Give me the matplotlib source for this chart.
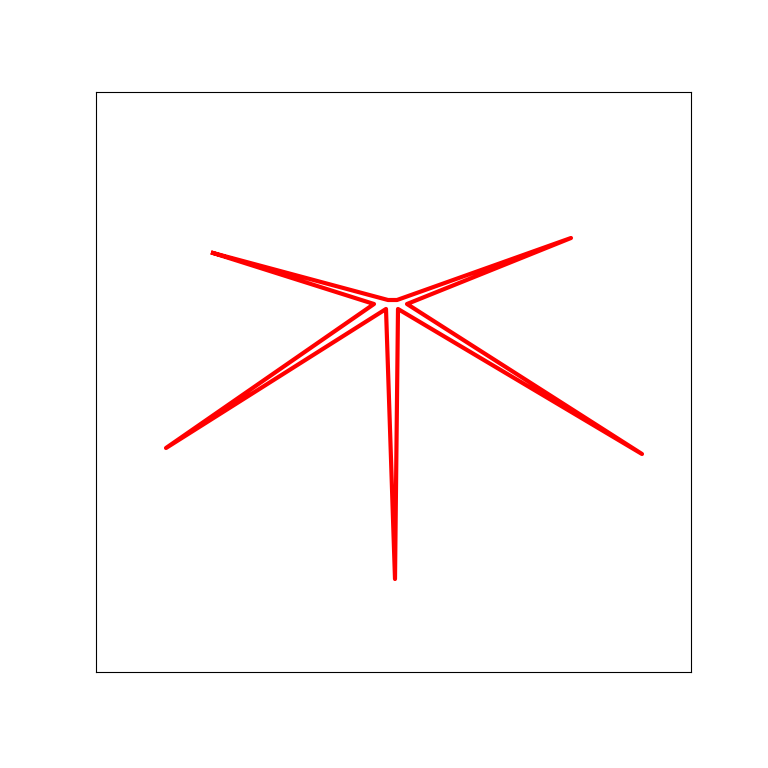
import matplotlib
matplotlib.use("Agg")
import matplotlib.pyplot as plt

# star outline vertices (closed path)
x = [117, 292, 301, 475, 311, 546, 302, 299, 290, 70, 278, 117]
y = [419, 372, 372, 434, 368, 218, 363, 93, 363, 224, 368, 419]

fig = plt.figure(figsize=(7.68, 7.68), dpi=100)
ax = fig.add_axes([96 / 768, 1 - 672 / 768, 595 / 768, 580 / 768])
ax.plot(x, y, color="red", linewidth=3)
ax.set_xlim(0, 595)
ax.set_ylim(0, 580)
ax.set_xticks([])
ax.set_yticks([])
for s in ax.spines.values():
    s.set_linewidth(0.8)

fig.savefig("out.png", dpi=100)
